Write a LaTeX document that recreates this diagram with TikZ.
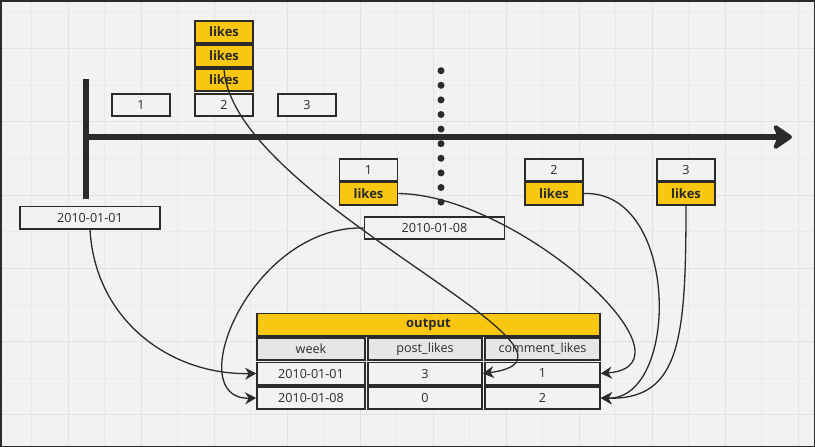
\documentclass[tikz,border=0pt]{standalone}
\usepackage{fontspec}
\setmainfont{Open Sans}
\usetikzlibrary{arrows.meta}
\definecolor{bg}{HTML}{F2F2F2}
\definecolor{ink}{HTML}{2B2B2B}
\definecolor{gold}{HTML}{FAC710}
\definecolor{hdr}{HTML}{E6E6E6}
\definecolor{gridmaj}{HTML}{E2E2E2}
\definecolor{gridmin}{HTML}{EAEAEA}

\tikzset{
	box/.style={draw=ink, line width=1.6pt, fill=bg, text=ink, inner sep=0pt,
		minimum width=58pt, minimum height=22.4pt, font=\fontsize{12.6}{14}\selectfont},
	likebox/.style={box, fill=gold, font=\fontsize{13}{14}\selectfont\bfseries},
	datebox/.style={box, minimum width=140pt},
	conn/.style={ink, line width=1.3pt, -{Stealth[length=11pt,width=12pt,inset=3.5pt]}}
}

\begin{document}
\begin{tikzpicture}[x=1pt, y=-1pt]
		\useasboundingbox (0,0) rectangle (815,447);
		\fill[bg] (0,0) rectangle (815,447);
		% grid
		\foreach \i in {0,...,11}
		{
			\draw[gridmin, line width=0.8pt] (31.5+73*\i,0) -- (31.5+73*\i,447);
			\draw[gridmaj, line width=0.8pt] (68+73*\i,0) -- (68+73*\i,447);
		}
		\foreach \j in {0,...,6}
		{
			\draw[gridmin, line width=0.8pt] (0,11.8+73.3*\j) -- (815,11.8+73.3*\j);
			\draw[gridmaj, line width=0.8pt] (0,48.3+73.3*\j) -- (815,48.3+73.3*\j);
		}
		\draw[ink, line width=1.5pt] (0.75,0.75) rectangle (814.25,446.25);
		
		% time axis
		\draw[ink, line width=6pt] (86,79) -- (86,199);
		\draw[ink, line width=6pt, line join=round,
			-{Stealth[length=22pt,width=30pt,inset=6pt,round]}] (86,137) -- (792,137);
		\foreach \i in {0,...,9}
		{
			\fill[ink] (441,70.7+14.6*\i) circle (3.5pt);
		}
		
		% first week
		\node[box] (p1) at (141,105) {1};
		\node[box] (p2) at (224,105) {2};
		\node[box] (p3) at (307,105) {3};
		\node[likebox] (la) at (224,32) {likes};
		\node[likebox] (lb) at (224,56) {likes};
		\node[likebox] (lc) at (224,80) {likes};
		\node[datebox] (d1) at (90,217.5) {2010-01-01};
		
		% second week
		\node[box] (q1) at (368.5,170) {1};
		\node[likebox] (m1) at (368.5,193.5) {likes};
		\node[box] (q2) at (554,170) {2};
		\node[likebox] (m2) at (554,193.5) {likes};
		\node[box] (q3) at (686,170) {3};
		\node[likebox] (m3) at (686,193.5) {likes};
		\node[datebox] (d8) at (434.5,228) {2010-01-08};
		
		% output table
		\node[box, fill=gold, minimum width=343pt, font=\fontsize{13}{14}\selectfont\bfseries] (out) at (428.5,324.5) {output};
		\node[box, fill=hdr, minimum width=108pt] (hw) at (311,349) {week};
		\node[box, fill=hdr, minimum width=114pt] (hp) at (425,349) {post\_likes};
		\node[box, fill=hdr, minimum width=115pt] (hc) at (542.5,349) {comment\_likes};
		\node[box, minimum width=108pt] (w1) at (311,373.5) {2010-01-01};
		\node[box, minimum width=114pt] (v1) at (425,373.5) {3};
		\node[box, minimum width=115pt] (c1) at (542.5,373.5) {1};
		\node[box, minimum width=108pt] (w2) at (311,398) {2010-01-08};
		\node[box, minimum width=114pt] (v2) at (425,398) {0};
		\node[box, minimum width=115pt] (c2) at (542.5,398) {2};
		
		% connectors
		\draw[conn] (lc.north) .. controls (230,200) and (625,355) .. (v1.east);
		\draw[conn] (m1.east) .. controls (520,195) and (705,365) .. (c1.east);
		\draw[conn] (m2.east) .. controls (680,190) and (680,400) .. (c2.east);
		\draw[conn] (m3.south) .. controls (686,340) and (680,400) .. (c2.east);
		\draw[conn] (d1.south) .. controls (95,320) and (170,375) .. (w1.west);
		\draw[conn] (d8.west) .. controls (250,225) and (180,400) .. (w2.west);
	\end{tikzpicture}
\end{document}
